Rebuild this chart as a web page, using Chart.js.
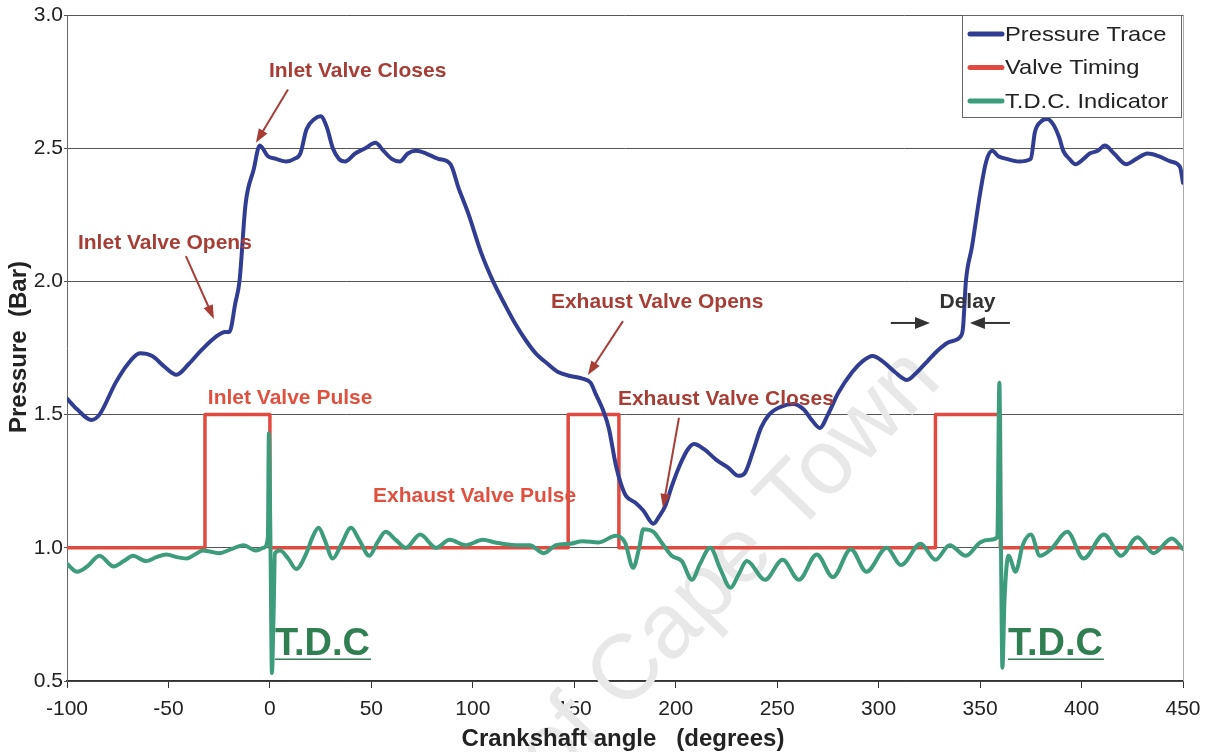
<!DOCTYPE html>
<html>
<head>
<meta charset="utf-8">
<script src="https://cdn.jsdelivr.net/npm/chart.js@4.4.0/dist/chart.umd.min.js"></script>
<style>
  html, body { margin: 0; padding: 0; background: #fff; }
  #wrap { width: 1211px; height: 752px; position: relative; }
</style>
</head>
<body>
<div id="wrap"><canvas id="chart" width="1211" height="752"></canvas></div>
<script>
// crank angle (deg) / pressure (bar)
const pressureX = [-100, -95, -88, -84, -76, -70, -64, -58, -52, -46, -40, -34, -27, -22, -20, -17, -15, -12, -8, -5,
    -1, 3, 8, 12, 15, 18, 22, 25, 28, 31, 34, 37, 42, 47, 52, 56, 60, 64, 68, 72, 77, 83, 89, 93, 98, 104, 110, 116,
    121, 126, 131, 137, 142, 148, 154, 158, 161, 164, 167, 170.5, 173, 175.5, 180, 184, 189, 192, 195, 198, 202, 206,
    209, 214, 220, 226, 231, 234, 238, 242, 246, 252, 258, 263, 267, 271, 275, 280, 287, 292, 297, 302, 308, 314, 319,
    324, 329, 334, 338, 340, 341.5, 343, 346, 350, 353, 356, 359, 363, 369, 375, 377, 380, 383, 386, 389, 391, 394, 397,
    401, 404, 408, 411.5, 416, 422, 427, 432.5, 438, 444, 448.5, 450];
const pressureY = [1.56, 1.52, 1.48, 1.50, 1.62, 1.69, 1.73, 1.72, 1.68, 1.65, 1.69, 1.74, 1.79, 1.81, 1.81, 1.92, 2.00, 2.29, 2.42, 2.51,
    2.47, 2.46, 2.45, 2.46, 2.48, 2.57, 2.61, 2.62, 2.58, 2.50, 2.46, 2.45, 2.48, 2.50, 2.52, 2.49, 2.46, 2.45, 2.48, 2.49, 2.48, 2.46, 2.44, 2.35, 2.25, 2.11, 2.00, 1.91,
    1.84, 1.78, 1.73, 1.69, 1.66, 1.645, 1.635, 1.62, 1.57, 1.52, 1.45, 1.31, 1.24, 1.195, 1.17, 1.14, 1.09, 1.12, 1.16, 1.23, 1.31, 1.37,
    1.39, 1.37, 1.33, 1.30, 1.27, 1.28, 1.36, 1.45, 1.50, 1.53, 1.54, 1.52, 1.48, 1.45, 1.50, 1.58, 1.66, 1.70, 1.72, 1.70, 1.66, 1.63, 1.66,
    1.70, 1.74, 1.77, 1.78, 1.79, 1.82, 2.00, 2.13, 2.33, 2.45, 2.49, 2.47, 2.46, 2.45, 2.46, 2.56, 2.60, 2.61, 2.59, 2.54, 2.49, 2.46, 2.44,
    2.46, 2.48, 2.49, 2.51, 2.48, 2.44, 2.46, 2.48, 2.47, 2.45, 2.43, 2.37];

// valve timing pulses
const valveX = [-100, -32, -32, 0, 0, 147, 147, 172, 172, 328, 328, 360, 360, 450];
const valveY = [1.0, 1.0, 1.5, 1.5, 1.0, 1.0, 1.5, 1.5, 1.0, 1.0, 1.5, 1.5, 1.0, 1.0];

// TDC indicator
const tdcX = [-100, -95, -90, -84, -77, -72, -67.5, -61, -56, -51, -46, -41, -37, -33, -29, -25, -19, -13, -7, -3, -1, -0.5,
    0.3, 1, 1.8, 2.5, 5, 9, 13, 18, 21, 24, 27, 31, 35, 40, 44, 49, 53, 57, 62, 67, 74, 82, 88.5, 96.5, 105, 111, 121, 128,
    135, 141, 148, 154, 162, 170.5, 175, 179, 182, 184, 189, 193, 198, 203, 208, 212, 217, 222, 227, 231, 235, 244,
    252.7, 260.7, 269.5, 277.5, 286.3, 294, 304, 311, 320.7, 328, 335, 343, 350, 355, 358.5, 359.5, 360.3, 361, 362,
    364, 367.5, 371, 375, 379.5, 385, 393, 401, 411, 419.5, 427.5, 435.5, 444.5, 450];
const tdcY = [0.94, 0.91, 0.93, 0.97, 0.93, 0.95, 0.97, 0.95, 0.965, 0.975, 0.965, 0.96, 0.975, 0.99, 0.985, 0.98, 0.995, 1.01, 0.99, 1.0, 1.04, 1.43,
    1.0, 0.53, 0.75, 0.98, 0.99, 0.96, 0.92, 0.98, 1.04, 1.075, 1.03, 0.96, 1.01, 1.075, 1.03, 0.97, 1.02, 1.06, 1.03, 1.0, 1.05, 1.0, 1.03, 1.01, 1.03, 1.02, 1.01, 1.01,
    0.98, 1.01, 1.015, 1.025, 1.02, 1.045, 1.02, 0.925, 1.0, 1.07, 1.06, 1.02, 0.97, 0.95, 0.88, 0.94, 1.0, 0.92, 0.85, 0.9, 0.95, 0.88,
    0.955, 0.88, 0.975, 0.89, 0.995, 0.91, 1.0, 0.935, 1.015, 0.955, 1.01, 0.97, 1.02, 1.03, 1.04, 1.62, 1.0, 0.55, 0.8,
    0.97, 0.91, 1.01, 1.05, 0.97, 0.995, 1.06, 0.96, 1.05, 0.97, 1.04, 0.98, 1.035, 0.995];

const seriesLabels = ['Pressure Trace', 'Valve Timing', 'T.D.C. Indicator'];
const seriesColors = ['#313d92', '#e04a40', '#3c9c7c'];

const FONT = "'Liberation Sans', Arial, sans-serif";
const NOTE_RED = '#a63e36';
const PULSE_RED = '#e0503f';
const TDC_GREEN = '#2f7f52';

function toPoints(xs, ys) {
    return xs.map((x, i) => ({ x: x, y: ys[i] }));
}

function arrow(ctx, x1, y1, x2, y2, color, head, half) {
    const ang = Math.atan2(y2 - y1, x2 - x1);
    const hl = head || 14, hw = half || 5;
    ctx.save();
    ctx.strokeStyle = color;
    ctx.fillStyle = color;
    ctx.lineWidth = 2;
    ctx.beginPath();
    ctx.moveTo(x1, y1);
    ctx.lineTo(x2 - Math.cos(ang) * hl * 0.8, y2 - Math.sin(ang) * hl * 0.8);
    ctx.stroke();
    ctx.beginPath();
    ctx.moveTo(x2, y2);
    ctx.lineTo(x2 - Math.cos(ang) * hl - Math.sin(ang) * hw, y2 - Math.sin(ang) * hl + Math.cos(ang) * hw);
    ctx.lineTo(x2 - Math.cos(ang) * hl + Math.sin(ang) * hw, y2 - Math.sin(ang) * hl - Math.cos(ang) * hw);
    ctx.closePath();
    ctx.fill();
    ctx.restore();
}

const watermark = {
    id: 'watermark',
    beforeDatasetsDraw(chart) {
        const ctx = chart.ctx;
        ctx.save();
        ctx.translate(925, 365);
        ctx.rotate(-46 * Math.PI / 180);
        ctx.font = '92px ' + FONT;
        ctx.fillStyle = '#e8e8e8';
        ctx.textAlign = 'right';
        ctx.textBaseline = 'middle';
        ctx.fillText('University of Cape Town', 0, 0);
        ctx.restore();
    }
};

const extras = {
    id: 'extras',
    afterDraw(chart) {
        const ctx = chart.ctx;
        const sx = chart.scales.x, sy = chart.scales.y;
        const px = v => sx.getPixelForValue(v);
        const py = v => sy.getPixelForValue(v);
        const area = chart.chartArea;

        // right border of plot
        ctx.save();
        ctx.strokeStyle = '#aaa';
        ctx.lineWidth = 1;
        ctx.beginPath();
        ctx.moveTo(area.right + 0.5, area.top);
        ctx.lineTo(area.right + 0.5, area.bottom);
        ctx.stroke();
        ctx.restore();

        // axis titles
        ctx.save();
        ctx.fillStyle = '#222';
        ctx.font = 'bold 24px ' + FONT;
        ctx.textAlign = 'center';
        ctx.textBaseline = 'middle';
        ctx.fillText('Crankshaft angle   (degrees)', 623, 739);
        ctx.translate(19, 347);
        ctx.rotate(-Math.PI / 2);
        ctx.fillText('Pressure  (Bar)', 0, 0);
        ctx.restore();

        // event notes
        ctx.save();
        ctx.textBaseline = 'middle';
        ctx.textAlign = 'left';
        ctx.font = 'bold 21px ' + FONT;
        ctx.fillStyle = NOTE_RED;
        ctx.fillText('Inlet Valve Closes', px(-0.5), py(2.79));
        ctx.fillText('Inlet Valve Opens', px(-94.6), py(2.144));
        ctx.fillText('Exhaust Valve Opens', px(138.5), py(1.923));
        ctx.fillText('Exhaust Valve Closes', px(171.5), py(1.559));
        ctx.fillStyle = PULSE_RED;
        ctx.fillText('Inlet Valve Pulse', px(-30.6), py(1.563));
        ctx.fillText('Exhaust Valve Pulse', px(50.8), py(1.195));
        ctx.fillStyle = '#333';
        ctx.fillText('Delay', px(330), py(1.923));
        ctx.restore();

        arrow(ctx, px(8.9), py(2.72), px(-6.9), py(2.52), NOTE_RED);
        arrow(ctx, px(-41.4), py(2.095), px(-27.6), py(1.859), NOTE_RED);
        arrow(ctx, px(174), py(1.851), px(156.7), py(1.649), NOTE_RED);
        arrow(ctx, px(201.6), py(1.488), px(193.7), py(1.15), NOTE_RED);
        arrow(ctx, px(306), py(1.844), px(325.3), py(1.844), '#333', 15, 6);
        arrow(ctx, px(364.7), py(1.844), px(345), py(1.844), '#333', 15, 6);

        // TDC labels
        ctx.save();
        ctx.font = 'bold 38px ' + FONT;
        ctx.fillStyle = TDC_GREEN;
        ctx.strokeStyle = TDC_GREEN;
        ctx.lineWidth = 1.5;
        ctx.textAlign = 'left';
        ctx.textBaseline = 'alphabetic';
        [[2.5, 49.8], [363.7, 411]].forEach(([a, b]) => {
            ctx.fillText('T.D.C', px(a), py(0.597));
            ctx.beginPath();
            ctx.moveTo(px(a), py(0.582));
            ctx.lineTo(px(b), py(0.582));
            ctx.stroke();
        });
        ctx.restore();

        // legend box
        ctx.save();
        ctx.fillStyle = '#fff';
        ctx.strokeStyle = '#666';
        ctx.lineWidth = 1;
        ctx.fillRect(962, 15, 219, 102);
        ctx.strokeRect(962.5, 15.5, 219, 102);
        ctx.textBaseline = 'middle';
        chart.data.datasets.forEach((ds, i) => {
            const y = 34 + i * 33.5;
            ctx.strokeStyle = ds.borderColor;
            ctx.lineWidth = 5;
            ctx.lineCap = 'round';
            ctx.beginPath();
            ctx.moveTo(970, y);
            ctx.lineTo(1002, y);
            ctx.stroke();
            ctx.save();
            ctx.translate(1005, y + 1);
            ctx.scale(1.13, 1);
            ctx.font = '21px ' + FONT;
            ctx.fillStyle = '#222';
            ctx.fillText(ds.label, 0, 0);
            ctx.restore();
        });
        ctx.restore();
    }
};

new Chart(document.getElementById('chart'), {
    type: 'line',
    data: {
        datasets: [
            {
                label: seriesLabels[0],
                data: toPoints(pressureX, pressureY),
                borderColor: seriesColors[0],
                borderWidth: 4,
                cubicInterpolationMode: 'monotone',
                order: 1
            },
            {
                label: seriesLabels[1],
                data: toPoints(valveX, valveY),
                borderColor: seriesColors[1],
                borderWidth: 3.5,
                tension: 0,
                order: 3
            },
            {
                label: seriesLabels[2],
                data: toPoints(tdcX, tdcY),
                borderColor: seriesColors[2],
                borderWidth: 4,
                cubicInterpolationMode: 'monotone',
                order: 2
            }
        ]
    },
    options: {
        responsive: false,
        animation: false,
        events: [],
        elements: {
            point: { radius: 0 },
            line: { borderCapStyle: 'round', borderJoinStyle: 'round', fill: false }
        },
        layout: { padding: { left: 0, top: 15, right: 28, bottom: 0 } },
        plugins: {
            legend: { display: false },
            tooltip: { enabled: false }
        },
        scales: {
            x: {
                type: 'linear',
                min: -100,
                max: 450,
                afterFit: s => { s.height = 71; },
                border: { display: true, color: '#333', width: 1.5 },
                grid: { drawOnChartArea: false, drawTicks: true, tickLength: 7, color: '#333' },
                ticks: {
                    stepSize: 50,
                    padding: 9,
                    color: '#222',
                    font: { family: FONT, size: 21 }
                }
            },
            y: {
                min: 0.5,
                max: 3.0,
                afterFit: s => { s.width = 67; },
                border: { display: true, color: '#666', width: 1 },
                grid: { color: '#555', lineWidth: 1, tickLength: 3 },
                ticks: {
                    stepSize: 0.5,
                    padding: 1,
                    color: '#222',
                    font: { family: FONT, size: 21 },
                    callback: v => v.toFixed(1)
                }
            }
        }
    },
    plugins: [watermark, extras]
});
</script>
</body>
</html>
